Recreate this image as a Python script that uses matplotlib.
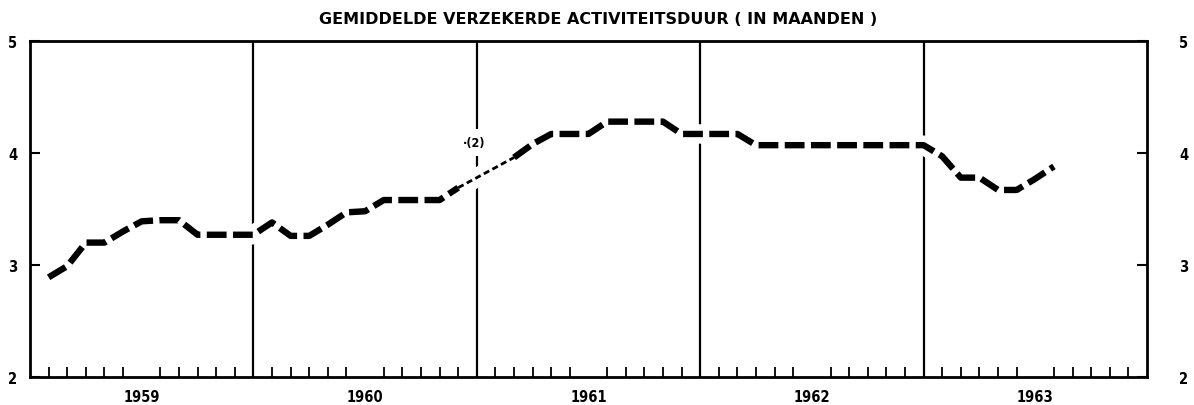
import matplotlib
matplotlib.use("Agg")
import matplotlib.pyplot as plt
import numpy as np

# ---- data ----
title = "GEMIDDELDE VERZEKERDE ACTIVITEITSDUUR ( IN MAANDEN )"
years = [1959, 1960, 1961, 1962, 1963]
month_index = list(range(1, 56))  # months counted from start of 1959
values = [2.89, 2.99, 3.20, 3.20, 3.30, 3.39, 3.40, 3.40, 3.27, 3.27,
          3.27, 3.27, 3.38, 3.26, 3.26, 3.36, 3.47, 3.48, 3.58, 3.58,
          3.58, 3.58, 3.69, 3.78, 3.87, 3.96, 4.08, 4.17, 4.17, 4.17,
          4.28, 4.28, 4.28, 4.28, 4.17, 4.17, 4.17, 4.17, 4.07, 4.07,
          4.07, 4.07, 4.07, 4.07, 4.07, 4.07, 4.07, 4.07, 3.97, 3.78,
          3.78, 3.67, 3.67, 3.77, 3.88]
interp_start, interp_end = 23, 26   # months drawn as thin dotted line (note (2))
yticks = [2, 3, 4, 5]
note_label = "·(2)"

fontnum = ["Liberation Sans Narrow", "DejaVu Sans"]

fig = plt.figure(figsize=(11.94, 4.06), dpi=100)
ax = fig.add_axes([30/1194, 28/406, (1147-30)/1194, (378-42)/406])

x = np.array([years[0] + m/12 for m in month_index])
y = np.array(values)

ax.set_xlim(years[0], years[-1] + 1)
ax.set_ylim(2, 5)

# year separators
for yr in years[1:]:
    ax.axvline(yr, color="black", lw=1.6, zorder=1)

# white halo under the curve (breaks the grid lines where the curve passes)
ax.plot(x, y, color="white", lw=14, solid_capstyle="round", zorder=2)

i0 = month_index.index(interp_start)
i1 = month_index.index(interp_end)
ax.plot(x[:i0+1], y[:i0+1], color="black", lw=4.6, dashes=(3.1, 1.0),
        solid_capstyle="butt", zorder=3)
ax.plot(x[i1:], y[i1:], color="black", lw=4.6, dashes=(3.1, 1.0),
        solid_capstyle="butt", zorder=3)
ax.plot(x[i0:i1+1], y[i0:i1+1], color="black", lw=2.0, dashes=(2.2, 1.3),
        zorder=3)

# note label on the 1961 separator
ax.text(years[2] - 0.01, 4.09, note_label, ha="center", va="center",
        fontsize=9, fontweight="bold", family=fontnum, fontstretch="condensed",
        zorder=4, bbox=dict(facecolor="white", edgecolor="none", pad=5))

# spines
for s in ax.spines.values():
    s.set_linewidth(2.0)

# y ticks (left)
ax.set_yticks(yticks)
ax.set_yticklabels([str(t) for t in yticks])
ax.tick_params(axis="y", which="major", direction="in", length=7, width=1.5,
               left=True, right=True, pad=9, labelsize=10.5)
for lab in ax.get_yticklabels():
    lab.set_fontfamily(fontnum)
    lab.set_fontweight("bold")
    lab.set_fontstretch("condensed")

# right labels via twin axis
ax2 = ax.twinx()
ax2.set_ylim(ax.get_ylim())
ax2.set_yticks(yticks)
ax2.set_yticklabels([str(t) for t in yticks])
ax2.tick_params(axis="y", direction="in", length=7, width=1.5, pad=23,
                labelsize=10.5)
for lab in ax2.get_yticklabels():
    lab.set_fontfamily(fontnum)
    lab.set_fontweight("bold")
    lab.set_fontstretch("condensed")
for s in ax2.spines.values():
    s.set_visible(False)

# x ticks: monthly minor ticks, year labels at mid-year
minor = [years[0] + m/12 for m in range(1, 60) if m % 12 != 0]
ax.set_xticks(minor, minor=True)
ax.set_xticks([yr + 0.5 for yr in years])
ax.set_xticklabels([str(yr) for yr in years])
ax.tick_params(axis="x", which="major", length=0, pad=9, labelsize=10.5)
ax.tick_params(axis="x", which="minor", direction="in", length=7, width=1.3,
               top=False)
for lab in ax.get_xticklabels():
    lab.set_fontfamily(fontnum)
    lab.set_fontweight("bold")
    lab.set_fontstretch("condensed")

fig.text(598/1194, 1 - 20/406, title, ha="center", va="center",
         fontsize=11.5, fontweight="bold", family=["DejaVu Sans"])

fig.savefig("out.png", dpi=100)
